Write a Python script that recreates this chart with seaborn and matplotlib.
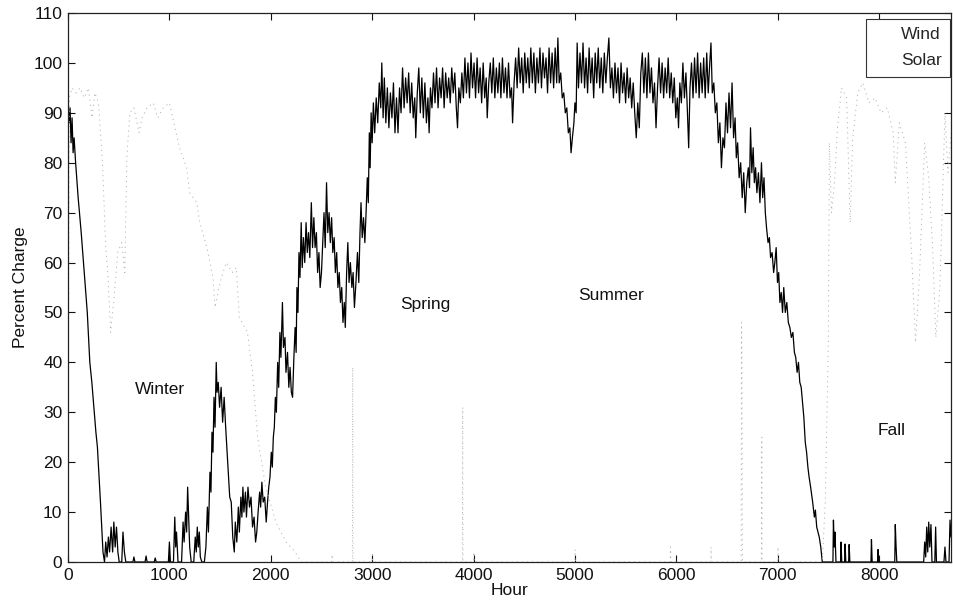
import numpy as np
import pandas as pd
import matplotlib
matplotlib.use("Agg")
import matplotlib.pyplot as plt
import seaborn as sns

# wind battery charge (hour, percent)
wind_hour = [0, 10, 20, 30, 40, 50, 60, 75, 100, 130, 160, 190, 215, 235, 255, 275, 290, 320, 345,
             360, 372, 385, 398, 410, 425, 440, 452, 465, 478, 492, 505, 530, 542, 556, 570,
             640, 650, 660, 760, 770, 780, 850, 860, 870, 990,
             1000, 1010, 1040, 1053, 1062, 1070, 1085, 1120, 1135, 1145, 1160, 1170, 1180, 1190, 1200,
             1215, 1240, 1255, 1265, 1275, 1285, 1295, 1305, 1320, 1345,
             1360, 1375, 1385, 1400, 1410, 1420, 1430, 1440, 1450, 1462, 1470, 1482, 1495, 1510, 1525,
             1540, 1555, 1575, 1595,
             1610, 1625, 1640, 1650, 1665, 1680, 1690, 1705, 1715, 1725, 1735, 1750, 1760, 1775, 1790,
             1805, 1820, 1835, 1850, 1862, 1875, 1890, 1900, 1912, 1925, 1940, 1955, 1968, 1980, 1992,
             2005, 2015, 2025, 2035, 2045, 2055, 2068, 2078, 2090, 2100, 2115, 2125, 2140, 2150, 2165,
             2178, 2190, 2203, 2215, 2228, 2240, 2250, 2258, 2268, 2278, 2288, 2300, 2310, 2322, 2335,
             2348, 2360, 2372, 2385, 2400, 2412, 2425, 2437, 2450, 2462, 2475, 2487, 2500, 2512, 2525,
             2537, 2550, 2562, 2575, 2587, 2600, 2612, 2625, 2637, 2650, 2662, 2675, 2687, 2700, 2712,
             2725, 2735, 2748, 2760, 2772, 2785, 2800, 2812, 2825, 2840, 2855, 2868, 2880, 2890, 2902,
             2915, 2928, 2940, 2952, 2962, 2972, 2980, 2990, 3000, 3012, 3025, 3040, 3055, 3070, 3085,
             3095, 3108,
             3120, 3135, 3150, 3165, 3180, 3195, 3210, 3225, 3240, 3255, 3270, 3285, 3300, 3315, 3330,
             3345, 3360, 3375, 3390, 3405, 3420, 3430, 3445, 3460, 3475, 3490, 3505, 3520, 3535, 3550,
             3562, 3575, 3590, 3605, 3620, 3635, 3650, 3665, 3680, 3695, 3710, 3725, 3740, 3755, 3770,
             3785, 3800, 3815, 3830, 3842, 3855, 3870, 3885, 3900, 3915, 3930, 3945, 3960, 3975, 3990,
             4005, 4020, 4035, 4050, 4065, 4080, 4095, 4110, 4125, 4135, 4150, 4165, 4180, 4195, 4210,
             4225, 4240, 4255, 4270, 4285, 4300, 4315, 4330, 4345, 4360, 4375, 4385, 4400, 4415, 4430,
             4445, 4460, 4475, 4490, 4505, 4520, 4535, 4550, 4565, 4580, 4595, 4610, 4625, 4640, 4655,
             4670, 4685, 4700, 4715, 4730, 4745, 4760, 4775, 4790, 4805, 4820, 4832, 4845, 4860, 4875,
             4890, 4905, 4920, 4935, 4950, 4962, 4975, 4990, 5000, 5012, 5022, 5035, 5050, 5065, 5080,
             5095, 5110, 5125, 5140, 5155, 5170, 5185, 5200, 5215, 5230, 5245, 5260, 5275, 5290, 5305,
             5320, 5335, 5350, 5365, 5380, 5395, 5410, 5425, 5440, 5455, 5470, 5485, 5500, 5515, 5530,
             5545, 5560, 5575, 5590, 5605, 5620, 5635, 5650, 5665, 5680, 5695, 5710, 5725, 5740, 5755,
             5770, 5785, 5800, 5815, 5830, 5845, 5860, 5875, 5890, 5905, 5920, 5935, 5950, 5965, 5980,
             5995, 6010, 6022, 6035, 6050, 6065, 6080, 6095, 6110, 6122, 6135, 6150, 6165, 6180, 6195,
             6210, 6225, 6240, 6255, 6270, 6285, 6300, 6315, 6330, 6342, 6355, 6370, 6385, 6400, 6415,
             6430, 6445, 6460, 6475, 6490, 6505, 6520, 6535, 6550, 6565, 6580, 6592, 6605, 6620, 6635,
             6650, 6665, 6680, 6695, 6710, 6722, 6732, 6745, 6758, 6770, 6782, 6795, 6810, 6825, 6840,
             6852, 6865, 6878, 6890, 6905, 6918, 6930, 6945, 6960, 6972, 6985, 6998, 7010, 7022, 7035,
             7048, 7060, 7075, 7090, 7105, 7120, 7135, 7150, 7165, 7178, 7192, 7205, 7218, 7232, 7245,
             7258, 7272, 7285, 7298, 7310, 7325, 7345, 7362, 7372, 7385, 7398, 7410, 7425, 7440,
             7500, 7545, 7550, 7558, 7565, 7575, 7620, 7625, 7632, 7660, 7665, 7672, 7700, 7705, 7712,
             7920, 7925, 7932, 7985, 7990, 7996, 8155, 8160, 8168, 8175, 8440, 8450, 8460, 8470, 8480,
             8490, 8500, 8512, 8522, 8550, 8558, 8566, 8640, 8650, 8660, 8690, 8700, 8710]
wind_pct = [92, 88, 91, 84, 89, 82, 85, 80, 73, 66, 58, 50, 40, 36, 31, 26, 23, 12, 2,
            0, 4, 1, 5, 2, 7, 2, 8, 3, 7, 2, 0, 0, 6, 2, 0,
            0, 1, 0, 0, 1.2, 0, 0, 0.8, 0, 0,
            4, 0, 0, 9, 3, 6, 0, 0, 8, 4, 10, 6, 15, 9, 3,
            0, 0, 5, 2, 7, 3, 6, 1, 0, 0,
            3, 11, 6, 18, 14, 26, 22, 33, 27, 40, 34, 36, 31, 35, 28,
            33, 27, 20, 13,
            12, 5, 2, 8, 4, 11, 6, 13, 9, 15, 10, 14, 9, 15, 11,
            13, 7, 9, 4, 6, 10, 14, 11, 16, 12, 13, 8, 12, 15, 17,
            22, 19, 25, 27, 33, 30, 40, 35, 46, 41, 52, 43, 45, 38, 42,
            35, 39, 34, 33, 41, 47, 42, 55, 50, 62, 57, 68, 59, 65, 60,
            68, 62, 66, 61, 72, 63, 69, 63, 66, 58, 62, 55, 58, 64, 70,
            63, 76, 66, 70, 64, 69, 62, 65, 58, 62, 55, 58, 52, 55, 48,
            52, 47, 58, 64, 56, 60, 55, 58, 51, 56, 62, 56, 66, 72, 65,
            69, 64, 70, 77, 72, 86, 79, 90, 84, 92, 86, 93, 88, 96, 91,
            100, 89,
            97, 88, 95, 87, 94, 89, 96, 86, 93, 86, 95, 90, 99, 91, 97,
            92, 98, 90, 96, 89, 93, 85, 94, 99, 90, 97, 89, 96, 88, 93,
            86, 95, 91, 98, 92, 99, 91, 97, 93, 99, 91, 98, 93, 97, 92,
            99, 94, 98, 91, 87, 95, 92, 98, 93, 101, 94, 100, 93, 102, 95,
            100, 93, 101, 94, 99, 92, 100, 93, 97, 89, 96, 100, 94, 101, 93,
            99, 94, 100, 93, 101, 94, 99, 93, 100, 93, 95, 88, 96, 101, 95,
            103, 96, 101, 94, 102, 96, 101, 95, 103, 96, 102, 94, 101, 96, 103,
            95, 102, 97, 101, 94, 103, 96, 102, 95, 103, 96, 105, 96, 98, 93,
            94, 90, 91, 86, 87, 82, 85, 88, 92, 90, 104, 95, 102, 96, 104,
            95, 101, 94, 103, 96, 101, 93, 102, 96, 103, 95, 101, 94, 102, 96,
            101, 105, 95, 99, 93, 100, 94, 99, 92, 100, 94, 98, 92, 99, 93,
            97, 91, 96, 90, 85, 92, 87, 98, 102, 94, 101, 93, 102, 94, 99,
            92, 96, 87, 95, 101, 94, 100, 93, 99, 94, 101, 93, 98, 92, 97,
            89, 93, 87, 96, 92, 100, 93, 98, 90, 83, 95, 100, 93, 101, 94,
            102, 93, 100, 94, 101, 93, 102, 94, 100, 104, 94, 96, 90, 92, 84,
            88, 79, 85, 83, 92, 86, 94, 87, 96, 85, 89, 81, 84, 77, 80,
            73, 78, 70, 76, 79, 75, 87, 78, 83, 76, 79, 74, 78, 72, 80,
            73, 77, 70, 67, 64, 65, 61, 62, 58, 60, 63, 56, 58, 52, 54,
            50, 55, 50, 52, 48, 47, 45, 46, 42, 41, 38, 40, 36, 35, 32,
            29, 24, 22, 19, 17, 15, 12, 9, 10.4, 7, 6, 5, 3, 0,
            0, 0, 8.4, 3, 6, 0, 0, 4, 0, 0, 3.6, 0, 0, 3.5, 0,
            0, 4.5, 0, 0, 2.5, 0, 0, 7.5, 3, 0, 0, 4, 1, 7, 2,
            8, 3, 7.5, 0, 0, 7, 0, 0, 3, 0, 0, 8.4, 5]

# solar battery charge (faint grey trace in the scan)
solar_hour = [0, 12, 40, 80, 120, 160, 200, 236, 265, 300, 340, 370, 395, 420, 450, 490, 530, 560,
              580, 610, 650, 700, 730, 780, 840, 885, 940, 1000, 1055, 1100, 1170, 1200, 1270, 1300,
              1370, 1430, 1450, 1500, 1560, 1620, 1660, 1690, 1770, 1820, 1870, 1950, 2050, 2150,
              2240, 2300, 2600, 2605, 2610, 2805, 2808, 2812, 3000, 3003, 3006, 3890, 3893, 3896,
              4000, 4003, 4006, 5000, 5003, 5006, 5940, 5943, 5946, 6340, 6343, 6346, 6640, 6643,
              6648, 6652, 6840, 6843, 6846, 7000, 7003, 7006, 7440, 7470, 7500, 7510, 7530, 7560,
              7590, 7630, 7680, 7715, 7740, 7790, 7840, 7900, 7960, 8020, 8080, 8140, 8160, 8200,
              8260, 8320, 8360, 8400, 8450, 8490, 8530, 8560, 8600, 8650, 8680, 8710]
solar_pct = [0, 93, 95, 94, 95, 93, 95, 89, 94, 92, 80, 64, 57, 46, 52, 62, 64, 58,
             81, 90, 91, 86, 89, 91, 92, 89, 91, 92, 87, 83, 79, 74, 72, 68,
             63, 57, 51, 56, 60, 58, 59, 49, 46, 38, 25, 15, 8, 4,
             2, 0, 0, 1.5, 0, 0, 39, 0, 0, 2, 0, 0, 31, 0,
             0, 2, 0, 0, 2.5, 0, 0, 3, 0, 0, 3, 0, 0, 48,
             40, 0, 0, 25, 0, 0, 3, 0, 0, 12, 45, 84, 70, 76,
             87, 95, 93, 68, 85, 94, 96, 92, 93, 90, 91, 86, 76, 88,
             84, 62, 44, 58, 84, 77, 62, 45, 55, 90, 78, 86]

season_names = ["Winter", "Spring", "Summer", "Fall"]
season_hour = [905, 3520, 5355, 8120]
season_pct = [34.5, 51.5, 53.3, 26.3]

sns.set_theme(style="ticks")
plt.rcParams["font.family"] = ["Liberation Sans", "DejaVu Sans"]

wind = pd.DataFrame({"Hour": wind_hour, "pct": wind_pct})
solar = pd.DataFrame({"Hour": solar_hour, "pct": solar_pct})

fig = plt.figure(figsize=(9.54, 6.03), dpi=100)
ax = fig.add_axes([0.0713, 0.068, 0.9256, 0.9104])

sns.lineplot(data=wind, x="Hour", y="pct", ax=ax, color="black", linewidth=0.9,
             estimator=None, sort=False, label="Wind")
sns.lineplot(data=solar, x="Hour", y="pct", ax=ax, color="#b4b4b4", linewidth=0.7,
             linestyle=(0, (1.2, 4)), estimator=None, sort=False, label="Solar")

for name, hx, py in zip(season_names, season_hour, season_pct):
    ax.text(hx, py, name, ha="center", va="center", fontsize=12.5, color="#111111")

ax.set_xlim(0, 8710)
ax.set_ylim(0, 110)
ax.set_xticks(np.arange(0, 8001, 1000))
ax.set_yticks(np.arange(0, 111, 10))
ax.tick_params(direction="in", top=True, right=True, length=5, width=0.8,
               labelsize=12.5, pad=4, colors="#111111")
for s in ax.spines.values():
    s.set_linewidth(0.9)
    s.set_color("#222222")

ax.set_xlabel("Hour", fontsize=12.5, labelpad=0, color="#111111")
ax.set_ylabel("Percent Charge", fontsize=12.5, labelpad=4, color="#111111")

leg = ax.legend(loc="upper right", bbox_to_anchor=(0.999, 0.99), fontsize=12.5,
                frameon=True, fancybox=False, framealpha=1, edgecolor="#333333",
                borderaxespad=0.0, handlelength=1.0, handletextpad=0.5, borderpad=0.5,
                labelspacing=0.6)
leg.get_frame().set_linewidth(0.8)
for h in leg.get_lines():
    h.set_visible(False)

fig.savefig("out.png", dpi=100)
